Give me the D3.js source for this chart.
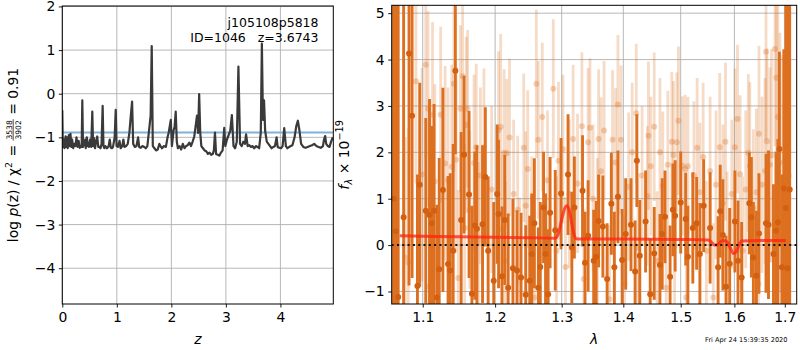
<!DOCTYPE html>
<html><head><meta charset="utf-8">
<script src="https://cdn.jsdelivr.net/npm/d3@7"></script>
<style>
body{margin:0;background:#fff}
svg{display:block}
text{font-family:"DejaVu Sans",sans-serif;fill:#000}
</style>
</head><body>
<svg id="c" width="800" height="350"></svg>
<script>
// ---------- DATA ----------
// left panel: log p(z)
const pzZ = [
 0.000,0.010,0.030,0.040,0.060,0.075,0.090,0.100,0.120,0.130,
 0.150,0.165,0.180,0.200,0.220,0.240,0.260,0.280,0.300,0.320,
 0.340,0.355,0.367,0.380,0.400,0.420,0.430,0.450,0.470,0.490,
 0.510,0.530,0.550,0.565,0.580,0.600,0.620,0.640,0.660,0.680,
 0.700,0.720,0.740,0.755,0.770,0.790,0.820,0.850,0.870,0.890,
 0.910,0.930,0.960,0.980,0.995,1.020,1.050,1.070,1.100,1.120,
 1.140,1.170,1.200,1.230,1.260,1.280,1.300,1.330,1.360,1.390,
 1.410,1.440,1.470,1.500,1.530,1.560,1.590,1.620,1.640,1.660,
 1.690,1.720,1.750,1.780,1.800,1.830,1.860,1.900,1.930,1.950,
 1.970,1.990,2.010,2.040,2.060,2.080,2.100,2.120,2.150,2.180,
 2.210,2.240,2.270,2.300,2.330,2.360,2.390,2.420,2.450,2.470,
 2.480,2.490,2.510,2.530,2.550,2.580,2.610,2.640,2.670,2.700,
 2.730,2.760,2.780,2.800,2.820,2.850,2.880,2.910,2.940,2.970,
 2.990,3.020,3.050,3.080,3.110,3.140,3.170,3.200,3.230,3.260,
 3.290,3.320,3.350,3.370,3.400,3.430,3.460,3.490,3.520,3.550,
 3.580,3.610,3.640,3.660,3.680,3.700,3.720,3.750,3.780,3.810,
 3.840,3.870,3.900,3.930,3.950,3.980,4.010,4.040,4.070,4.100,
 4.130,4.160,4.190,4.220,4.260,4.290,4.320,4.350,4.380,4.420,
 4.460,4.500,4.540,4.580,4.620,4.660,4.700,4.740,4.780,4.800,
 4.820,4.840,4.870,4.900,4.930,4.960];
const pzLog = [
 -0.38,-1.22,-1.05,-1.25,-0.98,-1.22,-1.00,-1.25,-0.95,-1.20,
 -0.92,-1.22,-1.05,-1.25,-1.15,-1.20,-1.00,-1.22,-1.08,-1.24,
 -1.20,-1.22,-0.15,-1.22,-1.12,-1.05,-1.25,-1.00,-1.20,-1.22,
 -1.05,-1.22,-0.41,-1.20,-1.02,-1.25,-1.10,-0.98,-1.22,-1.22,
 -1.25,-1.15,-0.28,-1.20,-1.25,-1.20,-1.25,-1.20,-1.05,-1.24,
 -1.25,-1.22,-1.00,-0.37,-1.20,-1.22,-1.08,-1.25,-1.20,-1.05,
 -1.22,-1.20,-1.15,-0.90,-0.45,-0.18,-1.15,-1.22,-1.20,-1.00,
 -1.22,-1.24,-1.20,-1.22,-1.25,-1.20,-0.85,-0.50,1.09,-1.20,
 -1.25,-1.30,-1.28,-1.15,-1.20,-1.25,-1.20,-1.22,-1.00,-0.90,
 -0.75,-0.60,-1.20,-0.85,-0.75,-0.41,-1.10,-1.25,-1.20,-1.28,
 -1.15,-1.25,-1.20,-1.18,-1.12,-1.20,-1.10,-0.98,-0.70,-0.50,
 -0.60,-0.90,-0.01,-0.90,-1.20,-1.25,-1.30,-1.32,-1.38,-1.35,
 -1.40,-1.38,-1.30,-0.89,-1.38,-1.40,-1.42,-1.35,-1.30,-0.78,
 -1.20,-1.05,-0.95,-0.85,-0.49,-1.20,-1.25,-1.10,0.62,-1.15,
 -1.20,-1.10,-1.15,-0.93,-1.20,-1.18,-1.22,-1.20,-1.25,-1.20,
 -1.22,-1.25,-0.90,1.15,-0.60,-0.15,-0.85,-1.10,-1.15,-1.20,
 -1.25,-1.22,-1.20,-1.00,-1.22,-1.24,-1.25,-1.20,-0.79,-1.20,
 -1.25,-1.22,-1.20,-1.18,-1.00,-0.75,-0.62,-0.85,-1.15,-1.22,
 -1.24,-1.22,-1.20,-1.18,-1.15,-1.20,-1.22,-1.24,-1.20,-1.05,
 -0.97,-1.15,-1.20,-1.22,-1.10,-1.00];
const pzLevel = -0.89;
const pzTicksX = [0,1,2,3,4];
const pzTicksY = [-4,-3,-2,-1,0,1,2];

// right panel: spectrum (units 1e-19)
const darkWave = [
 1.062,1.065,1.068,1.075,1.082,1.086,1.093,1.096,1.104,1.109,
 1.112,1.115,1.119,1.122,1.127,1.134,1.137,1.141,1.144,1.152,
 1.156,1.163,1.167,1.171,1.174,1.182,1.186,1.190,1.198,1.203,
 1.205,1.210,1.214,1.219,1.226,1.232,1.238,1.245,1.251,1.254,
 1.258,1.264,1.267,1.272,1.275,1.279,1.282,1.290,1.299,1.310,
 1.316,1.320,1.333,1.337,1.342,1.351,1.355,1.359,1.366,1.373,
 1.380,1.385,1.391,1.398,1.404,1.413,1.420,1.423,1.428,1.438,
 1.446,1.453,1.463,1.467,1.472,1.481,1.486,1.490,1.500,1.509,
 1.513,1.522,1.529,1.535,1.542,1.554,1.569,1.573,1.578,1.584,
 1.591,1.601,1.607,1.614,1.629,1.633,1.637,1.643,1.648,1.662,
 1.667,1.677,1.682,1.686,1.689,1.694,1.698,1.702,1.706,1.710];
const darkFlux = [
 1.0,0.3,-1.12,0.6,4.13,2.79,-0.88,1.30,0.74,0.65,
 0.47,0.74,-1.13,-0.52,1.19,-0.41,-0.55,-0.12,3.76,0.54,
 1.95,1.09,-1.05,0.42,0.35,0.45,1.47,-0.12,-0.77,1.10,
 0.67,-0.67,0.54,-0.92,-0.50,-0.55,-0.70,-1.07,-0.77,-0.19,
 0.47,-0.92,-0.47,0.81,-0.19,-1.06,0.70,0.32,1.11,1.52,
 -0.05,0.81,1.17,-0.38,0.20,-0.34,-0.25,0.52,0.40,-0.73,
 0.89,-0.48,1.04,-0.32,0.24,0.44,-0.57,1.82,-0.23,0.51,
 -1.06,-0.18,-0.43,0.24,0.61,-0.68,0.76,0.63,0.92,0.56,
 -0.25,0.37,0.47,-0.19,0.85,0.37,-0.48,0.73,0.22,-0.90,
 -0.40,0.51,-0.34,-0.70,0.90,0.60,-0.27,-0.66,0.25,0.47,
 0.44,-0.19,0.31,0.49,2.07,-0.48,1.22,0.8,-0.5,1.2];
const darkErr = [
 9,8,7,6,5,3.5,2.4,2.2,2.0,2.5,
 2.1,2.3,2.0,2.4,2.2,1.9,2.1,2.3,1.8,1.9,
 1.7,1.8,1.9,1.6,1.8,1.7,1.5,1.6,1.7,1.5,
 1.6,1.5,1.4,1.6,1.5,1.3,1.4,1.5,1.4,1.3,
 1.4,1.3,1.4,1.2,1.3,1.4,1.2,1.3,1.2,1.3,
 1.2,1.1,1.2,1.1,1.2,1.1,1.2,1.0,1.1,1.2,
 1.1,1.2,1.0,1.1,1.2,1.0,1.1,1.0,1.2,1.1,
 1.2,1.0,1.1,1.2,1.0,1.1,1.0,1.2,1.1,1.0,
 1.1,1.2,1.0,1.1,1.0,1.2,1.1,1.0,1.2,1.1,
 1.2,1.1,1.3,1.2,1.1,1.3,1.2,1.4,1.3,1.5,
 1.6,1.5,1.7,1.8,2.1,2.0,3.0,6,8,9];

const lightWave = [
 1.077,1.081,1.091,1.099,1.104,1.107,1.109,1.113,1.116,1.124,
 1.130,1.134,1.139,1.142,1.145,1.148,1.151,1.154,1.157,1.159,
 1.161,1.164,1.170,1.173,1.176,1.179,1.184,1.195,1.205,1.208,
 1.210,1.213,1.215,1.217,1.221,1.227,1.233,1.236,1.242,1.245,
 1.248,1.254,1.258,1.261,1.264,1.270,1.278,1.287,1.292,1.295,
 1.302,1.306,1.312,1.318,1.325,1.332,1.335,1.342,1.345,1.350,
 1.357,1.359,1.363,1.368,1.377,1.382,1.387,1.391,1.396,1.402,
 1.409,1.415,1.422,1.425,1.432,1.441,1.443,1.447,1.453,1.458,
 1.463,1.468,1.474,1.477,1.484,1.487,1.489,1.493,1.496,1.503,
 1.508,1.510,1.513,1.524,1.530,1.535,1.541,1.547,1.554,1.560,
 1.565,1.572,1.578,1.583,1.586,1.595,1.601,1.606,1.611,1.616,
 1.622,1.627,1.630,1.637,1.643,1.647,1.648,1.654,1.660,1.662,
 1.664,1.670,1.673,1.680,1.683,1.686,1.690,1.696,1.704,1.708];
const lightFlux = [
 -0.27,-0.38,3.53,1.52,3.89,2.94,-0.90,2.81,1.37,2.81,
 1.76,1.40,1.69,3.48,1.84,-0.71,2.94,3.64,0.37,2.59,
 2.94,0.76,1.77,2.11,0.09,1.50,2.11,1.20,2.48,2.55,
 0.35,1.99,-0.34,1.98,2.32,1.10,0.76,-0.68,2.10,0.85,
 1.64,0.31,-1.13,3.48,2.27,2.76,1.40,3.37,-0.12,1.82,
 2.07,-0.47,1.10,2.29,1.33,2.56,-0.73,2.22,2.53,1.00,
 0.27,2.29,1.59,2.47,-1.17,2.27,1.78,3.03,2.27,-0.84,
 1.26,2.00,2.84,-0.05,1.50,1.06,2.36,1.70,2.55,-0.34,
 2.00,1.28,-0.92,1.73,2.23,1.94,-0.02,2.22,2.68,1.71,
 1.64,-1.13,1.70,1.50,2.10,1.14,1.90,-0.12,1.60,-1.13,
 1.30,2.11,0.90,2.23,-0.02,1.10,2.11,2.72,1.53,-0.12,
 1.20,1.99,1.71,0.80,1.14,-0.84,2.40,1.30,1.60,4.17,
 2.24,1.73,1.93,4.23,3.61,2.76,1.78,0.90,-0.70,1.50];
const lightErr = [
 2.6,2.9,2.2,2.3,2.0,2.1,2.2,2.0,2.1,1.9,
 2.1,2.0,2.2,1.9,2.0,1.9,1.8,1.7,1.8,1.9,
 1.7,1.7,1.9,1.8,1.7,1.9,1.7,1.8,1.7,2.0,
 1.6,1.8,1.7,1.6,1.7,1.6,1.6,1.7,1.6,1.6,
 1.7,1.6,1.7,1.6,1.7,1.6,1.5,1.5,1.6,1.7,
 1.6,1.5,1.6,1.6,1.5,1.6,1.5,1.6,1.5,1.6,
 1.6,1.5,1.6,1.5,1.6,1.5,1.6,1.5,1.6,1.5,
 1.6,1.5,1.5,1.6,1.5,1.5,1.6,1.5,1.6,1.5,
 1.6,1.6,1.5,1.6,1.5,1.6,1.5,1.5,1.6,1.5,
 1.6,1.5,1.5,1.6,1.5,1.5,1.6,1.5,1.6,1.6,
 1.6,1.6,1.7,1.7,1.6,1.6,1.7,1.6,1.7,1.6,
 1.7,1.7,1.8,1.7,1.8,1.8,1.9,1.9,2.0,1.9,
 2.0,2.1,2.3,2.1,2.3,2.5,2.8,3.2,3.8,4.5];

// best-fit model
const modelWave = [1.070,1.100,1.150,1.200,1.250,1.290,1.295,1.300,1.305,1.308,
 1.312,1.316,1.320,1.324,1.400,1.500,1.550,1.555,1.560,1.565,
 1.570,1.578,1.585,1.592,1.598,1.603,1.608,1.614,1.650,1.702];
const modelFlux = [0.20,0.19,0.18,0.17,0.16,0.15,0.25,0.55,0.80,0.85,
 0.75,0.45,0.20,0.13,0.13,0.12,0.11,0.08,0.02,0.00,
 0.03,0.10,0.08,-0.05,-0.18,-0.15,-0.02,0.09,0.10,0.10];

const specTicksX = [1.1,1.2,1.3,1.4,1.5,1.6,1.7];
const specTicksY = [-1,0,1,2,3,4,5];

const titleLine1 = "j105108p5818";
const titleLine2 = "ID=1046   z=3.6743";
const stamp = "Fri Apr 24 15:39:35 2020";

// ---------- LAYOUT ----------
const svg = d3.select('#c');
const L = {x0:62.3, x1:333.3, y0:6, y1:304};
const R = {x0:391.7, x1:796.7, y0:5.3, y1:304};
const xL = d3.scaleLinear([0, 4.97], [L.x0, L.x1]);
const yL = d3.scaleLinear([-4.82, 2.01], [L.y1, L.y0]);
const xR = d3.scaleLog([1.0597, 1.7245], [R.x0, R.x1]);
const yR = d3.scaleLinear([-1.27, 5.17], [R.y1, R.y0]);
const FS = 13.9;
const GRID = '#b0b0b0';

const defs = svg.append('defs');
function clip(id, b){
  defs.append('clipPath').attr('id', id).append('rect')
    .attr('x', b.x0).attr('y', b.y0).attr('width', b.x1-b.x0).attr('height', b.y1-b.y0);
}
clip('cl', L); clip('cr', R);

function grids(b, xs, ys, xv, yv){
  const g = svg.append('g');
  g.selectAll('.gx').data(xv).join('line')
    .attr('x1', d=>xs(d)).attr('x2', d=>xs(d)).attr('y1', b.y0).attr('y2', b.y1)
    .attr('stroke', GRID).attr('stroke-width', 0.9);
  g.selectAll('.gy').data(yv).join('line')
    .attr('y1', d=>ys(d)).attr('y2', d=>ys(d)).attr('x1', b.x0).attr('x2', b.x1)
    .attr('stroke', GRID).attr('stroke-width', 0.9);
}
grids(L, xL, yL, pzTicksX, pzTicksY);
grids(R, xR, yR, specTicksX, specTicksY);

// ---------- LEFT PANEL ----------
const pL = svg.append('g').attr('clip-path', 'url(#cl)');
pL.append('line').attr('x1', L.x0).attr('x2', L.x1)
  .attr('y1', yL(pzLevel)).attr('y2', yL(pzLevel))
  .attr('stroke', '#80b1d9').attr('stroke-width', 2);
pL.append('path').datum(d3.range(pzZ.length))
  .attr('d', d3.line().x(i=>xL(pzZ[i])).y(i=>yL(pzLog[i])))
  .attr('fill', 'none').attr('stroke', '#3a3a3a').attr('stroke-width', 2.2)
  .attr('stroke-linejoin', 'round');

// ---------- RIGHT PANEL ----------
const pR = svg.append('g').attr('clip-path', 'url(#cr)');
function errSeries(wave, flux, err, barCol, barOp, ptCol, ptOp, bw){
  const g = pR.append('g');
  const idx = d3.range(wave.length);
  g.selectAll('line.e').data(idx).join('line')
    .attr('x1', i=>xR(wave[i])).attr('x2', i=>xR(wave[i]))
    .attr('y1', i=>yR(flux[i]-err[i])).attr('y2', i=>yR(flux[i]+err[i]))
    .attr('stroke', barCol).attr('stroke-opacity', barOp).attr('stroke-width', bw);
  g.selectAll('circle').data(idx).join('circle')
    .attr('cx', i=>xR(wave[i])).attr('cy', i=>yR(flux[i])).attr('r', 3)
    .attr('fill', ptCol).attr('fill-opacity', ptOp);
}
errSeries(lightWave, lightFlux, lightErr, 'rgb(220,110,30)', 0.25, 'rgb(220,110,30)', 0.3, 2.8);
errSeries(darkWave, darkFlux, darkErr, 'rgb(221,112,32)', 1, 'rgb(210,96,16)', 1, 2.9);

pR.append('path').datum(d3.range(modelWave.length))
  .attr('d', d3.line().x(i=>xR(modelWave[i])).y(i=>yR(modelFlux[i])).curve(d3.curveMonotoneX))
  .attr('fill', 'none').attr('stroke', '#ff2010').attr('stroke-opacity', 0.75)
  .attr('stroke-width', 3);
pR.append('line').attr('x1', R.x0).attr('x2', R.x1)
  .attr('y1', yR(0)).attr('y2', yR(0))
  .attr('stroke', '#111').attr('stroke-width', 2).attr('stroke-dasharray', '2 3.3');

// ---------- AXES ----------
function axes(b, xs, ys, xv, yv, xfmt, yfmt){
  const ax = svg.append('g').attr('transform', `translate(0,${b.y1})`)
    .call(d3.axisBottom(xs).tickValues(xv).tickFormat(xfmt).tickSize(3.5).tickPadding(4.5));
  const ay = svg.append('g').attr('transform', `translate(${b.x0},0)`)
    .call(d3.axisLeft(ys).tickValues(yv).tickFormat(yfmt).tickSize(3.5).tickPadding(3.5));
  [ax, ay].forEach(a=>{
    a.select('.domain').remove();
    a.selectAll('text').attr('font-size', FS).attr('font-family', '"DejaVu Sans",sans-serif').attr('fill', '#000');
    a.selectAll('line').attr('stroke', '#000').attr('stroke-width', 0.9);
  });
  svg.append('rect').attr('x', b.x0).attr('y', b.y0).attr('width', b.x1-b.x0).attr('height', b.y1-b.y0)
    .attr('fill', 'none').attr('stroke', '#000').attr('stroke-width', 1);
}
axes(L, xL, yL, pzTicksX, pzTicksY, d3.format('d'), d3.format('d'));
axes(R, xR, yR, specTicksX, specTicksY, d3.format('.1f'), d3.format('d'));

// ---------- TEXT ----------
svg.append('text').attr('x', 318.5).attr('y', 27).attr('text-anchor', 'end')
  .attr('font-size', 12.5).text(titleLine1);
svg.append('text').attr('x', 318.5).attr('y', 42).attr('text-anchor', 'end')
  .attr('font-size', 12.5).style('white-space', 'pre').text(titleLine2);

svg.append('text').attr('x', (L.x0+L.x1)/2).attr('y', 344).attr('text-anchor', 'middle')
  .attr('font-size', FS).style('font-style', 'italic').text('z');
svg.append('text').attr('x', (R.x0+R.x1)/2).attr('y', 344).attr('text-anchor', 'middle')
  .attr('font-size', FS).style('font-style', 'italic').text('λ');

svg.append('text').attr('x', 787.5).attr('y', 342).attr('text-anchor', 'end')
  .attr('font-size', 6.6).text(stamp);

// rotated rich labels
function richLabel(baseX, cy, build){
  const g = svg.append('g');
  const st = {pos: 0};
  const add = (txt, o={}) => {
    const t = g.append('text').attr('x', st.pos).attr('y', o.dy||0)
      .attr('font-size', o.size||FS).style('white-space', 'pre')
      .style('font-style', o.italic ? 'italic' : 'normal').text(txt);
    st.pos += t.node().getComputedTextLength() + (o.pad||0);
    return t;
  };
  build(add, g, st);
  g.attr('transform', `translate(${baseX},${cy + st.pos/2}) rotate(-90)`);
}
richLabel(17.5, 155, (add, g, st)=>{
  add('log ');
  add('p', {italic:true});
  add('(z) / χ');
  add('2', {size:9.5, dy:-5.5, pad:1});
  add(' = ');
  const fs = 7.6;
  const n = g.append('text').attr('y', -6).attr('font-size', fs).attr('text-anchor', 'middle').text('3538');
  const d = g.append('text').attr('y', 3.6).attr('font-size', fs).attr('text-anchor', 'middle').text('3902');
  const w = Math.max(n.node().getComputedTextLength(), d.node().getComputedTextLength()) + 2;
  n.attr('x', st.pos + w/2); d.attr('x', st.pos + w/2);
  g.append('line').attr('x1', st.pos).attr('x2', st.pos + w).attr('y1', -4.3).attr('y2', -4.3)
    .attr('stroke', '#000').attr('stroke-width', 0.7);
  st.pos += w;
  add(' = 0.91');
});
richLabel(349, 155, (add)=>{
  add('f', {italic:true, pad:0.5});
  add('λ', {italic:true, size:9.7, dy:3});
  add(' × 10');
  add('−19', {size:9.7, dy:-6});
});
</script>
</body></html>
